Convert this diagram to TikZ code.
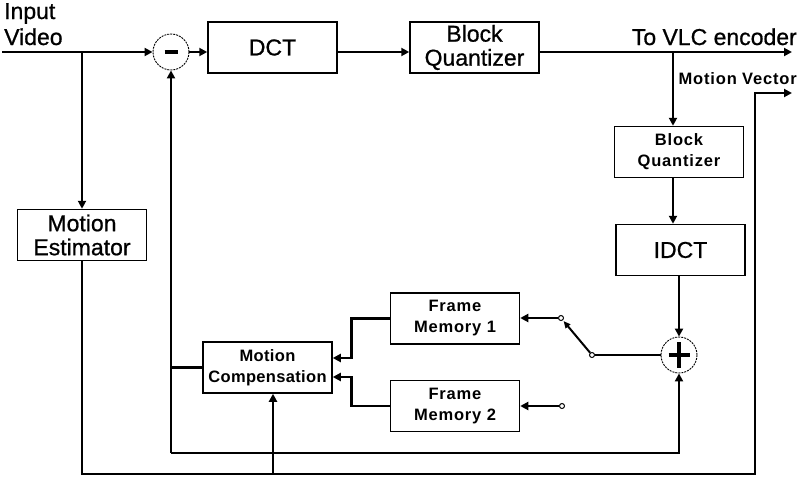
\documentclass[tikz,border=0pt]{standalone}
\usepackage{fontspec}
\setmainfont{Liberation Sans}
\usetikzlibrary{arrows.meta,calc}
\begin{document}
\begin{tikzpicture}[x=1pt,y=-1pt,
  box/.style={draw, line width=1.5pt, inner sep=0pt, align=center, minimum width=129pt, minimum height=51pt},
  big/.style={font=\fontsize{23}{24}\selectfont\addfontfeatures{FakeBold=0.8}},
  small/.style={font=\fontsize{16.5}{21}\selectfont\bfseries\addfontfeatures{LetterSpace=5}},
  conn/.style={line width=2.8pt, line join=miter},
  arr/.style={conn, -{Triangle[length=8pt,width=8pt]}},
  sumc/.style={circle, draw, dash pattern=on 2pt off 1pt, line width=0.9pt, minimum size=36pt, inner sep=0pt},
  contact/.style={circle, draw, line width=1pt, fill=white, minimum size=5pt, inner sep=0pt}]
\useasboundingbox (0,0) rectangle (804,485);

% labels
\node[big, anchor=base west, inner sep=0pt] (lin) at (4,19) {Input};
\node[big, anchor=base west, inner sep=0pt] (lvid) at (4,45) {Video};
\node[big, anchor=base east, inner sep=0pt] (vlc) at (797,45) {To VLC encoder};
\node[small, anchor=base east, inner sep=0pt] (mv) at (797,84) {Motion Vector};

% blocks
\node[box, big] (DCT) at (272.5,47.5) {DCT};
\node[box, big] (BQ1) at (474.5,47.5) {Block\\Quantizer};
\node[box, big] (ME) at (82,235) {Motion\\Estimator};
\node[box, small] (BQ2) at (679,152) {Block\\Quantizer};
\node[box, big] (IDCT) at (680.5,250) {IDCT};
\node[box, small] (FM1) at (455,318.5) {Frame\\Memory 1};
\node[box, small] (FM2) at (455,406) {Frame\\Memory 2};
\node[box, small, font=\fontsize{16.5}{21}\selectfont\bfseries\addfontfeatures{LetterSpace=2}] (MC) at (267.5,367.5) {Motion\\Compensation};

% summing junctions
\node[sumc] (S) at (171,52) {};
\node[sumc] (A) at (679,355) {};
\draw[line width=4pt] ($(S)+(-6.5,0)$) -- ($(S)+(6.5,0)$);
\draw[line width=4pt] ($(A)+(-10.5,0)$) -- ($(A)+(10.5,0)$);
\draw[line width=4pt] ($(A)+(0,-13)$) -- ($(A)+(0,13)$);

% switch contacts
\node[contact] (P) at (592,355) {};
\node[contact] (C1) at (561,318) {};
\node[contact] (C2) at (562,406) {};

% coordinates
\coordinate (vin) at (2,52);
\coordinate (j1) at (82,52);
\coordinate (j2) at (673,52);
\coordinate (vout) at (792,52);
\coordinate (b1) at (171,453);
\coordinate (mvb) at (755,474);
\coordinate (mvt) at (755,93);
\coordinate (mvo) at (792,93);
\coordinate (j3) at (273,474);

% forward path
\draw[arr] (vin) -- (S.west);
\draw[arr] (j1) -- (ME.north);
\draw[arr] (S.east) -- (S.east -| DCT.west);
\draw[arr] (S.east -| DCT.east) -- (S.east -| BQ1.west);
\draw[arr] (S.east -| BQ1.east) -- (vout);
\draw[arr] (j2) -- (j2 |- BQ2.north);
\draw[arr] (j2 |- BQ2.south) -- (j2 |- IDCT.north);
\draw[arr] (A |- IDCT.south) -- (A.north);

% switch
\draw[conn] (P) -- (A.west);
\draw[line width=2pt, -{Triangle[length=7pt,width=6pt]}, shorten >=1pt] (P) -- (C1);
\draw[arr] (C1) -- (C1 -| FM1.east);
\draw[arr] (C2) -- (C2 -| FM2.east);

% frame memories to motion compensation
\draw[arr] (FM1.west) -- ++(-38,0) |- ($(MC.east)+(0,-9.5)$);
\draw[arr] (FM2.west) -- ++(-38,0) |- ($(MC.east)+(0,9.5)$);

% feedback
\draw[conn] (MC.west) -- (MC.west -| S);
\draw[arr] (b1) -- (S.south);
\draw[arr] (b1) -| (A.south);

% motion vectors
\draw[arr] (ME.south) |- (mvb) -- (mvt) -- (mvo);
\draw[arr] (j3) -- (j3 |- MC.south);
\end{tikzpicture}
\end{document}
